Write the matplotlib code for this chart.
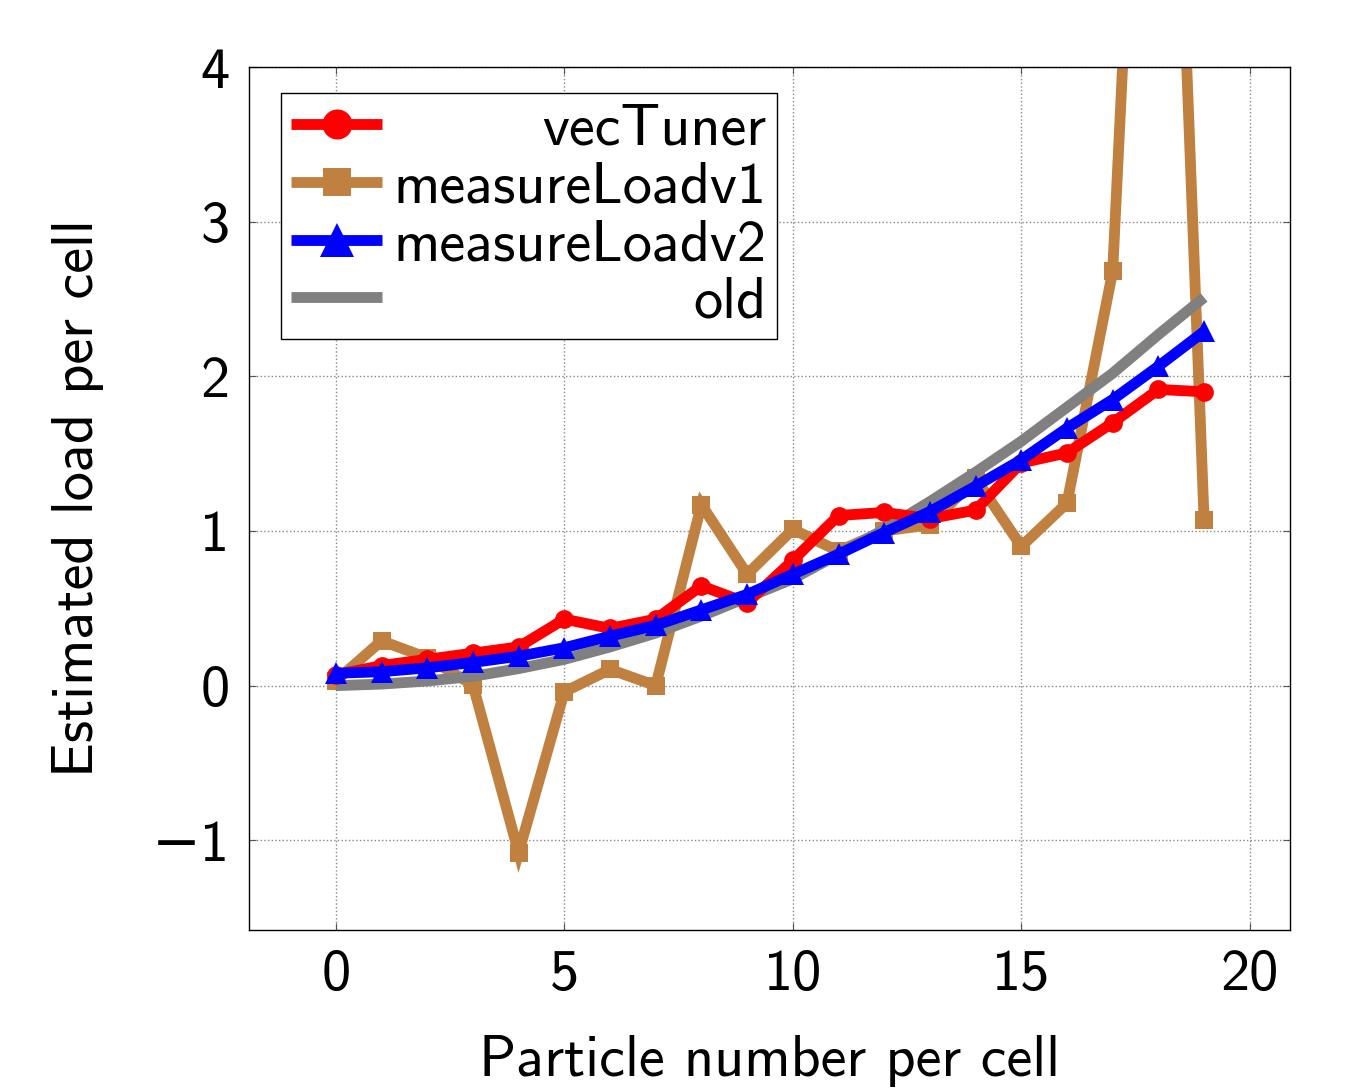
import matplotlib
matplotlib.use("Agg")
import matplotlib.pyplot as plt
from matplotlib.offsetbox import TextArea
from matplotlib.transforms import Bbox

# ---- data ----
x = list(range(20))
vecTuner = [0.07, 0.13, 0.17, 0.21, 0.25, 0.43, 0.37, 0.43, 0.645, 0.535,
            0.81, 1.10, 1.12, 1.08, 1.135, 1.44, 1.505, 1.70, 1.915, 1.90]
measureLoadv1 = [0.03, 0.29, 0.18, 0.005, -1.08, -0.04, 0.105, 0.0, 1.17, 0.72,
                 1.01, 0.87, 1.0, 1.04, 1.34, 0.90, 1.18, 2.68, 8.8, 1.07]
measureLoadv2 = [0.08, 0.09, 0.115, 0.15, 0.19, 0.245, 0.32, 0.39, 0.49, 0.59,
                 0.72, 0.85, 0.99, 1.125, 1.29, 1.46, 1.665, 1.85, 2.065, 2.29]
old = [0.0, 0.01, 0.03, 0.06, 0.11, 0.17, 0.25, 0.34, 0.45, 0.57,
       0.69, 0.85, 1.01, 1.19, 1.38, 1.58, 1.80, 2.02, 2.27, 2.51]
labels = ["vecTuner", "measureLoadv1", "measureLoadv2", "old"]
xticks = [0, 5, 10, 15, 20]
yticks = [-1, 0, 1, 2, 3, 4]

plt.rcParams['font.family'] = ['cmss10', 'DejaVu Sans']
plt.rcParams['axes.unicode_minus'] = True
plt.rcParams['axes.formatter.use_mathtext'] = False

FS = 42
fig = plt.figure(figsize=(13.46, 10.91), dpi=100)
ax = fig.add_axes([249/1346, 1-930/1091, (1290-249)/1346, (930-67)/1091])

LW = 7.8
MS = 13.5
common = dict(linewidth=LW, solid_joinstyle='miter', solid_capstyle='butt')
l1, = ax.plot(x, vecTuner, color='#FF0000', marker='o', markersize=MS, mew=0,
              label=labels[0], zorder=4, **common)
l2, = ax.plot(x, measureLoadv1, color='#BF8040', marker='s', markersize=MS-1, mew=0,
              label=labels[1], zorder=2, **common)
l3, = ax.plot(x, measureLoadv2, color='#0000FF', marker='^', markersize=MS+2, mew=0,
              label=labels[2], zorder=5, **common)
l4, = ax.plot(x, old, color='#808080', label=labels[3], zorder=3, **common)

ax.set_xlim(-1.9, 20.88)
ax.set_ylim(-1.58, 4.0)
ax.set_xticks(xticks)
ax.set_yticks(yticks)
ax.tick_params(direction='in', length=5, width=0.8, color='#555555',
               top=True, right=True, labelsize=FS, pad=14)
ax.grid(True, linestyle=':', color='#888888', linewidth=1.0)
for s in ax.spines.values():
    s.set_linewidth(1.0)
    s.set_color('black')

ax.set_xlabel("Particle number per cell", fontsize=FS, labelpad=24)
ax.set_ylabel("Estimated load per cell", fontsize=FS, labelpad=34)

leg = ax.legend(handles=[l1, l2, l3, l4], loc='upper left',
                bbox_to_anchor=(0.0307, 0.97), borderaxespad=0,
                fontsize=FS, fancybox=False, framealpha=1, edgecolor='black',
                handlelength=1.55, handletextpad=0.2, borderpad=0.18,
                labelspacing=0.1, markerscale=1.6)
leg.get_frame().set_linewidth(1.0)

# right-align the legend texts
tas = [t for t in leg._legend_box.findobj(TextArea) if t._text in leg.texts]
orig = {ta: ta.get_bbox for ta in tas}
for ta in tas:
    ta._text.set_ha('right')

def make(ta):
    def gb(renderer):
        b = orig[ta](renderer)
        W = max(orig[t](renderer).width for t in tas)
        return Bbox.from_bounds(-W, b.y0, W, b.height)
    return gb

for ta in tas:
    ta.get_bbox = make(ta)

fig.savefig("out.png", dpi=100)
